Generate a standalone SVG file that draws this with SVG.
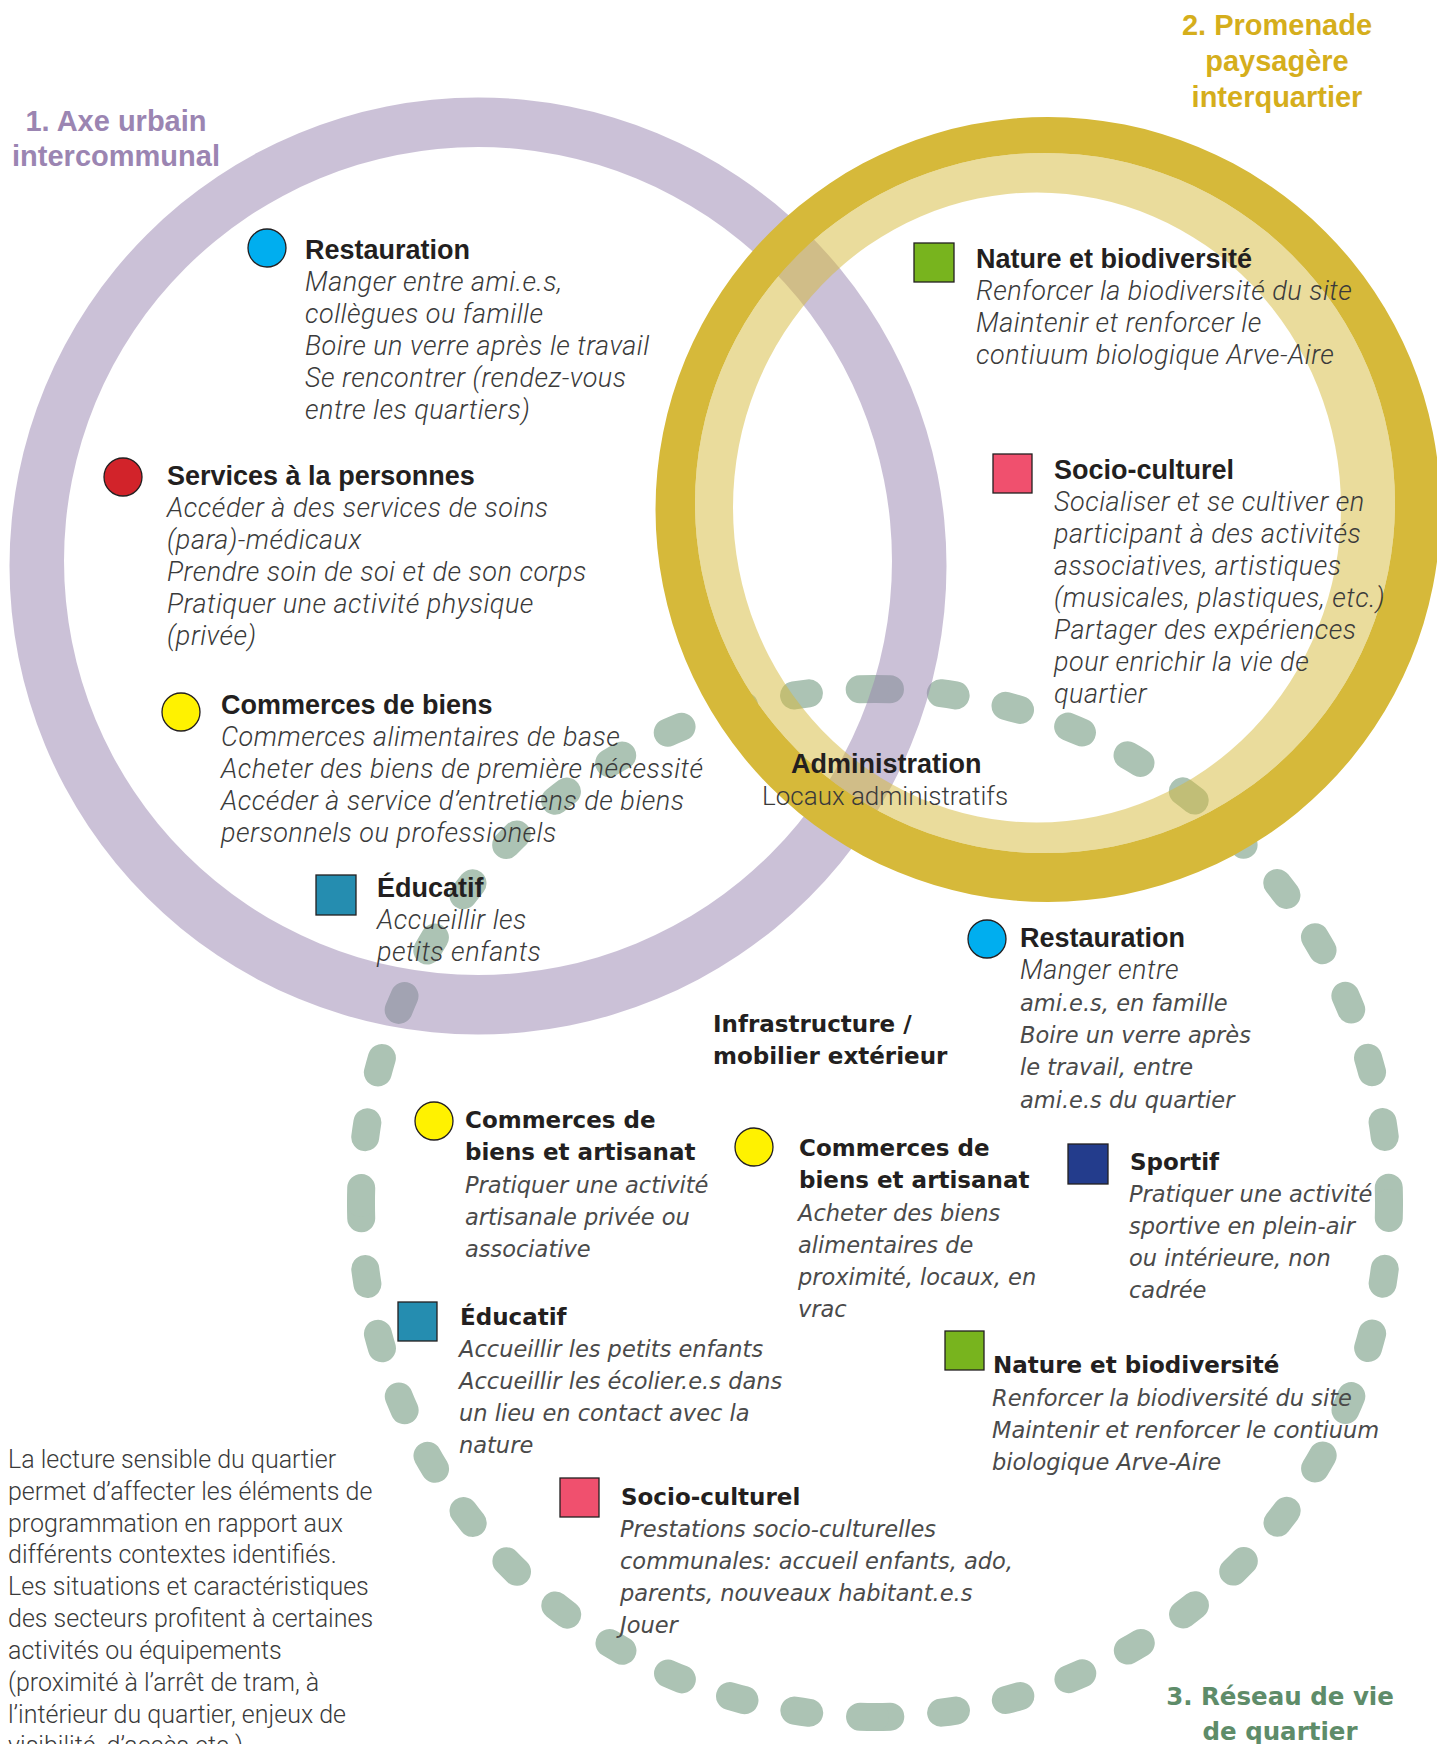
<svg xmlns="http://www.w3.org/2000/svg" width="1437" height="1744" viewBox="0 0 1437 1744">
<style>
.h{font-family:"Liberation Sans",Arial,sans-serif;font-weight:700;font-size:27px;fill:#231f20}
.d{font-family:Roboto,"Liberation Sans",sans-serif;font-weight:300;font-style:italic;font-size:27px;letter-spacing:0.5px;fill:#3a3a3a}
.u{font-family:Roboto,"Liberation Sans",sans-serif;font-weight:300;font-size:26px;fill:#3a3a3a}
.h2{font-family:"DejaVu Sans",sans-serif;font-weight:700;font-size:23px;fill:#231f20}
.d2{font-family:"DejaVu Sans",sans-serif;font-style:italic;font-size:22.5px;fill:#4a4a4a}
.p{font-family:Roboto,"Liberation Sans",sans-serif;font-weight:300;font-size:25px;fill:#3a3a3a}
.t1{font-family:"Liberation Sans",Arial,sans-serif;font-weight:700;font-size:29px;fill:#9b85b2;text-anchor:middle}
.t2{font-family:"Liberation Sans",Arial,sans-serif;font-weight:700;font-size:29px;fill:#d5ae1c;text-anchor:middle}
.t3{font-family:"DejaVu Sans",sans-serif;font-weight:700;font-size:24.5px;fill:#5e8c69;text-anchor:middle}
.mk{stroke:#231f20;stroke-width:1.3}
.dash{fill:none;stroke:#acc3b4;stroke-width:28;stroke-linecap:round;stroke-dasharray:18.6 63.15}
</style>
<g id="connectors">
  <g id="ring3">
    <path class="dash" pathLength="1000" d="M875 689 A514 514 0 0 1 1389 1203"/>
    <path class="dash" pathLength="1000" d="M1389 1203 A514 514 0 0 1 875 1717"/>
    <path class="dash" pathLength="1000" d="M875 1717 A514 514 0 0 1 361 1203"/>
    <path class="dash" pathLength="1000" d="M361 1203 A514 514 0 0 1 875 689"/>
  </g>
  <path id="ring1" fill="#9783af" fill-opacity="0.5" fill-rule="evenodd" d="M9.5 566 a468.5 468.5 0 1 0 937 0 a468.5 468.5 0 1 0 -937 0 Z M64 561 a414 414 0 1 0 828 0 a414 414 0 1 0 -828 0 Z"/>
  <g id="ring2">
    <path fill="#d6b93a" fill-rule="evenodd" d="M655.5 509.5 a392.5 392.5 0 1 0 785 0 a392.5 392.5 0 1 0 -785 0 Z M695 503 a350 350 0 1 0 700 0 a350 350 0 1 0 -700 0 Z"/>
    <path fill="#d6b93a" fill-opacity="0.5" fill-rule="evenodd" d="M695 503 a350 350 0 1 0 700 0 a350 350 0 1 0 -700 0 Z M733 507.5 a304 315 0 1 0 608 0 a304 315 0 1 0 -608 0 Z"/>
  </g>
</g>
<g id="label-1"><text class="t1" x="116" y="131">1. Axe urbain</text><text class="t1" x="116" y="166">intercommunal</text></g>
<g id="label-2"><text class="t2" x="1277" y="35">2. Promenade</text><text class="t2" x="1277" y="71">paysagère</text><text class="t2" x="1277" y="107">interquartier</text></g>
<g id="label-3"><text class="t3" x="1280" y="1705">3. Réseau de vie</text><text class="t3" x="1280" y="1740">de quartier</text></g>

<g id="n-restauration-1">
  <circle class="mk" cx="267" cy="248" r="19" fill="#00aeef"/>
  <text class="h" x="305" y="259">Restauration</text>
  <text class="d"><tspan x="305" y="291">Manger entre ami.e.s,</tspan><tspan x="305" y="323">collègues ou famille</tspan><tspan x="305" y="355">Boire un verre après le travail</tspan><tspan x="305" y="387">Se rencontrer (rendez-vous</tspan><tspan x="305" y="419">entre les quartiers)</tspan></text>
</g>
<g id="n-services-1">
  <circle class="mk" cx="123" cy="477" r="19" fill="#d2232a"/>
  <text class="h" x="167" y="485">Services à la personnes</text>
  <text class="d"><tspan x="167" y="517">Accéder à des services de soins</tspan><tspan x="167" y="549">(para)-médicaux</tspan><tspan x="167" y="581">Prendre soin de soi et de son corps</tspan><tspan x="167" y="613">Pratiquer une activité physique</tspan><tspan x="167" y="645">(privée)</tspan></text>
</g>
<g id="n-commerces-1">
  <circle class="mk" cx="181" cy="712" r="19" fill="#fff200"/>
  <text class="h" x="221" y="714">Commerces de biens</text>
  <text class="d"><tspan x="221" y="746">Commerces alimentaires de base</tspan><tspan x="221" y="778">Acheter des biens de première nécessité</tspan><tspan x="221" y="810">Accéder à service d’entretiens de biens</tspan><tspan x="221" y="842">personnels ou professionels</tspan></text>
</g>
<g id="n-educatif-1">
  <rect class="mk" x="316" y="875" width="40" height="40" fill="#258db0"/>
  <text class="h" x="377" y="897">Éducatif</text>
  <text class="d"><tspan x="377" y="929">Accueillir les</tspan><tspan x="377" y="961">petits enfants</tspan></text>
</g>
<g id="n-nature-2">
  <rect class="mk" x="914" y="243" width="40" height="39" fill="#78b41e"/>
  <text class="h" x="976" y="268">Nature et biodiversité</text>
  <text class="d"><tspan x="976" y="300">Renforcer la biodiversité du site</tspan><tspan x="976" y="332">Maintenir et renforcer le</tspan><tspan x="976" y="364">contiuum biologique Arve-Aire</tspan></text>
</g>
<g id="n-socio-2">
  <rect class="mk" x="993" y="454" width="39" height="39" fill="#f0506e"/>
  <text class="h" x="1054" y="479">Socio-culturel</text>
  <text class="d"><tspan x="1054" y="511">Socialiser et se cultiver en</tspan><tspan x="1054" y="543">participant à des activités</tspan><tspan x="1054" y="575">associatives, artistiques</tspan><tspan x="1054" y="607">(musicales, plastiques, etc.)</tspan><tspan x="1054" y="639">Partager des expériences</tspan><tspan x="1054" y="671">pour enrichir la vie de</tspan><tspan x="1054" y="703">quartier</tspan></text>
</g>
<g id="n-administration">
  <text class="h" x="791" y="773">Administration</text>
  <text class="u" x="762" y="805">Locaux administratifs</text>
</g>
<g id="n-restauration-3">
  <circle class="mk" cx="987" cy="939" r="19" fill="#00aeef"/>
  <text class="h" x="1020" y="947">Restauration</text>
  <text class="d" x="1020" y="979">Manger entre</text>
  <text class="d2"><tspan x="1020" y="1011">ami.e.s, en famille</tspan><tspan x="1020" y="1043">Boire un verre après</tspan><tspan x="1020" y="1075">le travail, entre</tspan><tspan x="1020" y="1108">ami.e.s du quartier</tspan></text>
</g>
<g id="n-infrastructure">
  <text class="h2"><tspan x="713" y="1032">Infrastructure /</tspan><tspan x="713" y="1064">mobilier extérieur</tspan></text>
</g>
<g id="n-commerces-3a">
  <circle class="mk" cx="434" cy="1121" r="19" fill="#fff200"/>
  <text class="h2"><tspan x="465" y="1128">Commerces de</tspan><tspan x="465" y="1160">biens et artisanat</tspan></text>
  <text class="d2"><tspan x="465" y="1193">Pratiquer une activité</tspan><tspan x="465" y="1225">artisanale privée ou</tspan><tspan x="465" y="1257">associative</tspan></text>
</g>
<g id="n-commerces-3b">
  <circle class="mk" cx="754" cy="1147" r="19" fill="#fff200"/>
  <text class="h2"><tspan x="799" y="1156">Commerces de</tspan><tspan x="799" y="1188">biens et artisanat</tspan></text>
  <text class="d2"><tspan x="798" y="1221">Acheter des biens</tspan><tspan x="798" y="1253">alimentaires de</tspan><tspan x="798" y="1285">proximité, locaux, en</tspan><tspan x="798" y="1317">vrac</tspan></text>
</g>
<g id="n-sportif">
  <rect class="mk" x="1068" y="1144" width="40" height="40" fill="#233c8c"/>
  <text class="h2" x="1130" y="1170">Sportif</text>
  <text class="d2"><tspan x="1129" y="1202">Pratiquer une activité</tspan><tspan x="1129" y="1234">sportive en plein-air</tspan><tspan x="1129" y="1266">ou intérieure, non</tspan><tspan x="1129" y="1298">cadrée</tspan></text>
</g>
<g id="n-nature-3">
  <rect class="mk" x="945" y="1331" width="39" height="39" fill="#78b41e"/>
  <text class="h2" x="993" y="1373">Nature et biodiversité</text>
  <text class="d2"><tspan x="992" y="1406">Renforcer la biodiversité du site</tspan><tspan x="992" y="1438">Maintenir et renforcer le contiuum</tspan><tspan x="992" y="1470">biologique Arve-Aire</tspan></text>
</g>
<g id="n-educatif-3">
  <rect class="mk" x="398" y="1302" width="39" height="39" fill="#258db0"/>
  <text class="h2" x="460" y="1325">Éducatif</text>
  <text class="d2"><tspan x="459" y="1357">Accueillir les petits enfants</tspan><tspan x="459" y="1389">Accueillir les écolier.e.s dans</tspan><tspan x="459" y="1421">un lieu en contact avec la</tspan><tspan x="459" y="1453">nature</tspan></text>
</g>
<g id="n-socio-3">
  <rect class="mk" x="560" y="1478" width="39" height="39" fill="#f0506e"/>
  <text class="h2" x="621" y="1505">Socio-culturel</text>
  <text class="d2"><tspan x="620" y="1537">Prestations socio-culturelles</tspan><tspan x="620" y="1569">communales: accueil enfants, ado,</tspan><tspan x="620" y="1601">parents, nouveaux habitant.e.s</tspan><tspan x="620" y="1633">Jouer</tspan></text>
</g>
<g id="note">
  <text class="p"><tspan x="8" y="1468">La lecture sensible du quartier</tspan><tspan x="8" y="1500">permet d’affecter les éléments de</tspan><tspan x="8" y="1532">programmation en rapport aux</tspan><tspan x="8" y="1563">différents contextes identifiés.</tspan><tspan x="8" y="1595">Les situations et caractéristiques</tspan><tspan x="8" y="1627">des secteurs profitent à certaines</tspan><tspan x="8" y="1659">activités ou équipements</tspan><tspan x="8" y="1691">(proximité à l’arrêt de tram, à</tspan><tspan x="8" y="1723">l’intérieur du quartier, enjeux de</tspan><tspan x="8" y="1754">visibilité, d’accès etc.)</tspan></text>
</g>
</svg>
